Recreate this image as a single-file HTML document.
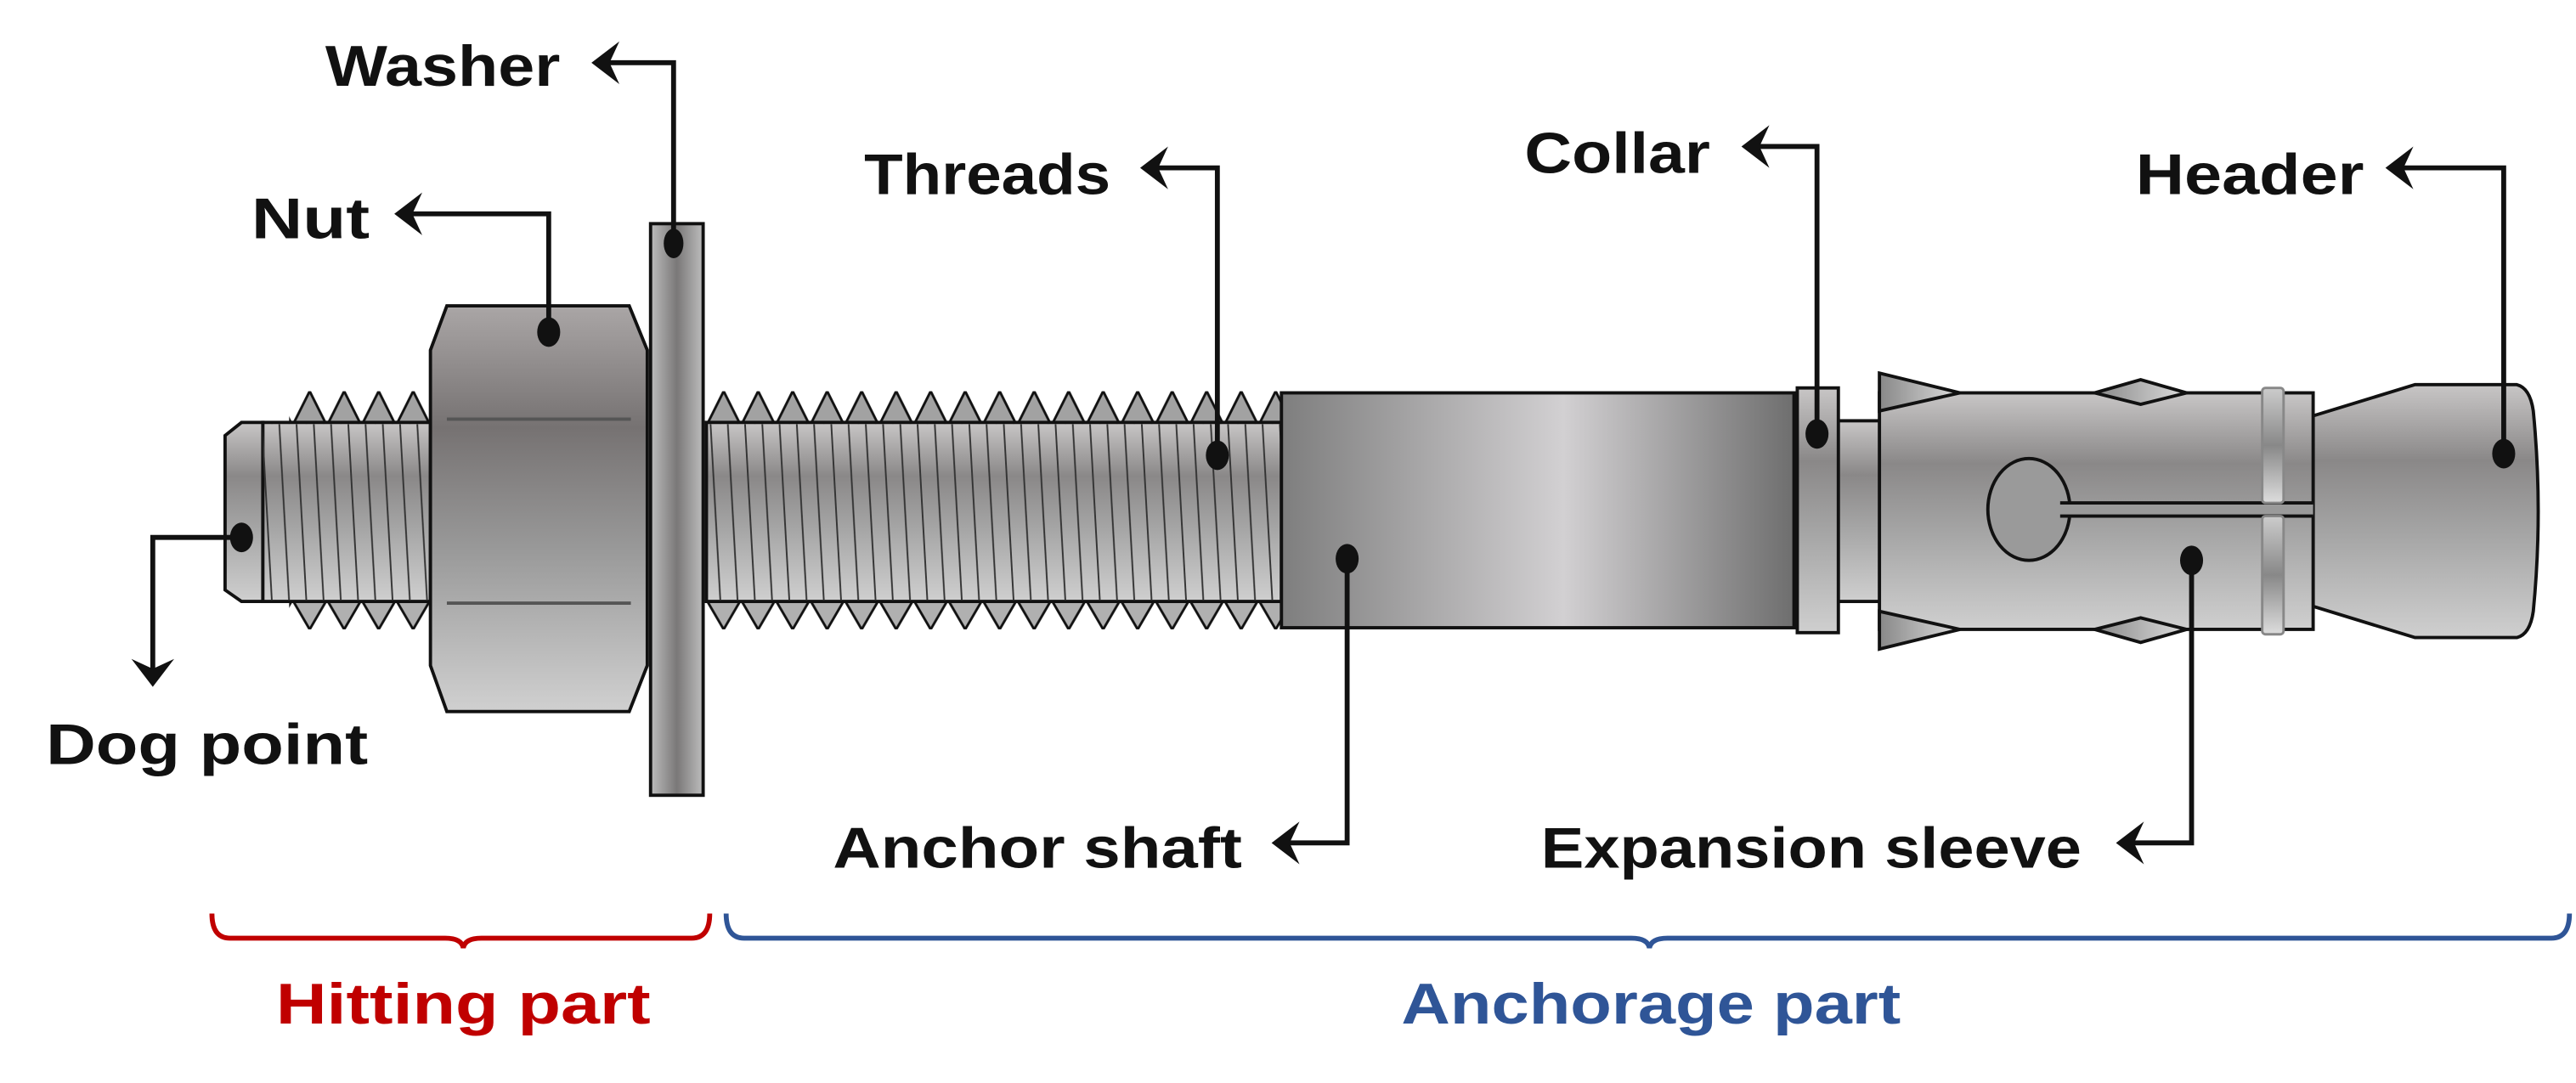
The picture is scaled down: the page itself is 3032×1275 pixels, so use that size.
<!DOCTYPE html>
<html><head><meta charset="utf-8"><style>html,body{margin:0;padding:0;background:#fff}svg{display:block}</style></head>
<body>
<svg width="3032" height="1275" viewBox="0 0 1568 659" xmlns="http://www.w3.org/2000/svg" font-family="Liberation Sans, sans-serif" font-weight="bold">
<defs>
<linearGradient id="vg" x1="0" y1="0" x2="0" y2="1"><stop offset="0" stop-color="#c8c6c6"/><stop offset="0.3" stop-color="#8a8888"/><stop offset="0.6" stop-color="#a6a6a6"/><stop offset="1" stop-color="#cfcfcf"/></linearGradient>
<linearGradient id="nut" x1="0" y1="0" x2="0" y2="1"><stop offset="0" stop-color="#aaa6a6"/><stop offset="0.3" stop-color="#767272"/><stop offset="0.6" stop-color="#999"/><stop offset="1" stop-color="#d0d0d0"/></linearGradient>
<linearGradient id="wash" x1="0" y1="0" x2="1" y2="0"><stop offset="0" stop-color="#bdbdbd"/><stop offset="0.5" stop-color="#7a7878"/><stop offset="1" stop-color="#bdbdbd"/></linearGradient>
<linearGradient id="shaft" x1="0" y1="0" x2="1" y2="0"><stop offset="0" stop-color="#7e7e7e"/><stop offset="0.55" stop-color="#d2d0d2"/><stop offset="1" stop-color="#6e6e6e"/></linearGradient>
<linearGradient id="ring" x1="0" y1="0" x2="0" y2="1"><stop offset="0" stop-color="#ccc"/><stop offset="0.5" stop-color="#888"/><stop offset="1" stop-color="#ddd"/></linearGradient>
<linearGradient id="tri" x1="0" y1="0" x2="1" y2="0"><stop offset="0" stop-color="#888"/><stop offset="1" stop-color="#ddd"/></linearGradient>
<pattern id="tt" x="430" y="0" width="21" height="659" patternUnits="userSpaceOnUse"><path d="M0,259 L10.5,238 L21,259 Z" fill="#a2a2a2" stroke="#111" stroke-width="1.5"/></pattern>
<pattern id="tb" x="430" y="0" width="21" height="659" patternUnits="userSpaceOnUse"><path d="M0,365 L10.5,383 L21,365 Z" fill="#b0b0b0" stroke="#111" stroke-width="1.5"/></pattern>
<pattern id="sl" x="0" y="258" width="10.5" height="108" patternUnits="userSpaceOnUse"><line x1="2" y1="0" x2="8" y2="108" stroke="#333" stroke-width="1"/></pattern>
</defs>

<!-- dog point -->
<path d="M160,257 L147,257 L137,265 L137,359 L147,366 L160,366 Z" fill="url(#vg)" stroke="#111" stroke-width="2"/>
<!-- left thread section -->
<rect x="176" y="238" width="86" height="21" fill="url(#tt)"/>
<rect x="176" y="365" width="86" height="18" fill="url(#tb)"/>
<rect x="160" y="257" width="102" height="109" fill="url(#vg)" stroke="#111" stroke-width="2"/>
<rect x="160" y="258" width="102" height="107" fill="url(#sl)"/>
<!-- right thread section -->
<rect x="430" y="238" width="350" height="21" fill="url(#tt)"/>
<rect x="430" y="365" width="350" height="18" fill="url(#tb)"/>
<rect x="430" y="257" width="350" height="109" fill="url(#vg)" stroke="#111" stroke-width="2"/>
<rect x="430" y="258" width="350" height="107" fill="url(#sl)"/>
<!-- nut -->
<path d="M272,186 L383,186 L394,213 L394,405 L383,433 L272,433 L262,405 L262,213 Z" fill="url(#nut)" stroke="#111" stroke-width="2"/>
<line x1="272" y1="255" x2="384" y2="255" stroke="#555" stroke-width="2"/>
<line x1="272" y1="367" x2="384" y2="367" stroke="#555" stroke-width="2"/>
<!-- washer -->
<rect x="396" y="136" width="32" height="348" fill="url(#wash)" stroke="#111" stroke-width="2"/>
<!-- anchor shaft -->
<rect x="780" y="239" width="312" height="143" fill="url(#shaft)" stroke="#111" stroke-width="2"/>
<!-- neck -->
<rect x="1118" y="256" width="27" height="110" fill="url(#vg)" stroke="#111" stroke-width="2"/>
<!-- collar -->
<rect x="1094" y="236" width="25" height="149" fill="url(#vg)" stroke="#111" stroke-width="2"/>
<!-- header -->
<path d="M1408,253 L1470,234 L1532,234 Q1540,236 1542,250 Q1548,311 1542,372 Q1540,386 1532,388 L1470,388 L1408,369 Z" fill="url(#vg)" stroke="#111" stroke-width="2"/>
<!-- sleeve -->
<rect x="1144" y="239" width="264" height="144" fill="url(#vg)" stroke="#111" stroke-width="2"/>
<ellipse cx="1235" cy="310" rx="25" ry="31" fill="#9a9a9a" stroke="#111" stroke-width="2"/>
<rect x="1252" y="306" width="156" height="8" fill="#9a9a9a"/>
<line x1="1254" y1="306" x2="1408" y2="306" stroke="#111" stroke-width="2"/>
<line x1="1254" y1="314" x2="1408" y2="314" stroke="#111" stroke-width="2"/>
<!-- triangles -->
<path d="M1144,227 L1193,239 L1144,250 Z" fill="url(#tri)" stroke="#111" stroke-width="2"/>
<path d="M1144,395 L1193,383 L1144,372 Z" fill="url(#tri)" stroke="#111" stroke-width="2"/>
<path d="M1275,239 L1303,231 L1331,239 L1303,246 Z" fill="url(#tri)" stroke="#111" stroke-width="2"/>
<path d="M1275,383 L1303,376 L1331,383 L1303,391 Z" fill="url(#tri)" stroke="#111" stroke-width="2"/>
<!-- rings -->
<rect x="1377" y="236" width="13" height="70" rx="2" fill="url(#ring)" stroke="#888" stroke-width="1.5"/>
<rect x="1377" y="314" width="13" height="72" rx="2" fill="url(#ring)" stroke="#888" stroke-width="1.5"/>

<!-- connectors -->
<g fill="none" stroke="#111" stroke-width="3">
<path d="M410,148 L410,38 L366,38"/>
<path d="M334,202 L334,130 L246,130"/>
<path d="M741,277 L741,102 L700,102"/>
<path d="M1106,264 L1106,89 L1066,89"/>
<path d="M1524,276 L1524,102 L1458,102"/>
<path d="M147,327 L93,327 L93,410"/>
<path d="M820,340 L820,513 L780,513"/>
<path d="M1334,341 L1334,513 L1294,513"/>
</g>
<g fill="#111">
<path d="M360,38 L377,25 L371,38 L377,51 Z"/>
<path d="M240,130 L257,117 L251,130 L257,143 Z"/>
<path d="M694,102 L711,89 L705,102 L711,115 Z"/>
<path d="M1060,89 L1077,76 L1071,89 L1077,102 Z"/>
<path d="M1452,102 L1469,89 L1463,102 L1469,115 Z"/>
<path d="M774,513 L791,500 L785,513 L791,526 Z"/>
<path d="M1288,513 L1305,500 L1299,513 L1305,526 Z"/>
<path d="M93,418 L80,401 L93,407 L106,401 Z"/>
<ellipse cx="410" cy="148" rx="6" ry="9"/>
<ellipse cx="334" cy="202" rx="7" ry="9"/>
<ellipse cx="741" cy="277" rx="7" ry="9"/>
<ellipse cx="1106" cy="264" rx="7" ry="9"/>
<ellipse cx="1524" cy="276" rx="7" ry="9"/>
<ellipse cx="147" cy="327" rx="7" ry="9"/>
<ellipse cx="820" cy="340" rx="7" ry="9"/>
<ellipse cx="1334" cy="341" rx="7" ry="9"/>
</g>

<!-- labels -->
<g font-size="35" fill="#111">
<text x="198" y="52" textLength="143" lengthAdjust="spacingAndGlyphs">Washer</text>
<text x="153" y="145" textLength="72" lengthAdjust="spacingAndGlyphs">Nut</text>
<text x="526" y="118" textLength="150" lengthAdjust="spacingAndGlyphs">Threads</text>
<text x="928" y="105" textLength="113" lengthAdjust="spacingAndGlyphs">Collar</text>
<text x="1300" y="118" textLength="139" lengthAdjust="spacingAndGlyphs">Header</text>
<text x="28" y="465" textLength="196" lengthAdjust="spacingAndGlyphs">Dog point</text>
<text x="507" y="528" textLength="249" lengthAdjust="spacingAndGlyphs">Anchor shaft</text>
<text x="938" y="528" textLength="329" lengthAdjust="spacingAndGlyphs">Expansion sleeve</text>
</g>

<!-- brackets -->
<path d="M129,556 Q129,571 140,571 L271,571 Q281,571 282,577 Q283,571 293,571 L421,571 Q432,571 432,556" fill="none" stroke="#c00000" stroke-width="3"/>
<path d="M442,556 Q442,571 453,571 L993,571 Q1003,571 1004,577 Q1005,571 1015,571 L1553,571 Q1564,571 1564,556" fill="none" stroke="#2f5597" stroke-width="3"/>
<text x="168" y="623" font-size="35" fill="#c00000" textLength="228" lengthAdjust="spacingAndGlyphs">Hitting part</text>
<text x="853" y="623" font-size="35" fill="#2f5597" textLength="304" lengthAdjust="spacingAndGlyphs">Anchorage part</text>
</svg>
</body></html>
